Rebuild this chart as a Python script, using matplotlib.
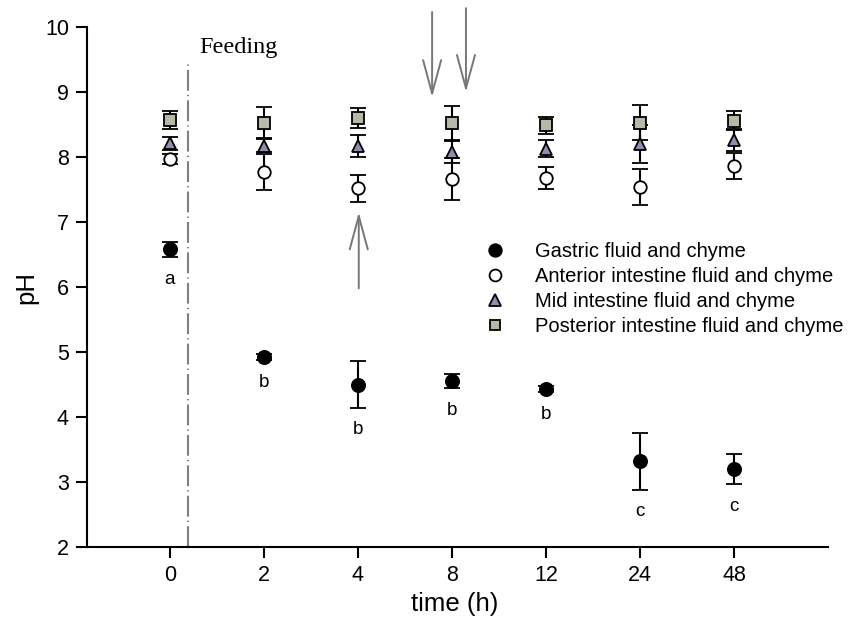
import matplotlib
matplotlib.use("Agg")
import matplotlib.pyplot as plt
import numpy as np

plt.rcParams['font.family'] = ['Liberation Sans', 'DejaVu Sans']

time_labels = ['0', '2', '4', '8', '12', '24', '48']

gastric = [6.58, 4.92, 4.50, 4.55, 4.43, 3.32, 3.20]
gastric_err = [0.12, 0.05, 0.36, 0.11, 0.05, 0.44, 0.23]

anterior = [7.97, 7.77, 7.52, 7.66, 7.68, 7.54, 7.86]
anterior_err = [0.08, 0.27, 0.21, 0.32, 0.17, 0.28, 0.20]

mid = [8.21, 8.17, 8.17, 8.08, 8.13, 8.20, 8.26]
mid_err = [0.10, 0.10, 0.17, 0.17, 0.13, 0.29, 0.17]

posterior = [8.57, 8.53, 8.60, 8.52, 8.49, 8.53, 8.56]
posterior_err = [0.14, 0.24, 0.15, 0.26, 0.13, 0.27, 0.15]

letters = ['a', 'b', 'b', 'b', 'b', 'c', 'c']

series_names = ['Gastric fluid and chyme', 'Anterior intestine fluid and chyme',
                'Mid intestine fluid and chyme', 'Posterior intestine fluid and chyme']

fig = plt.figure(figsize=(8.57, 6.19), dpi=100)
ax = fig.add_axes([87/857, 72/619, (828-87)/857, (547-27)/619])

x = np.arange(len(time_labels))

styles = [
    dict(marker='o', mfc='black', mec='black', ms=9.5),
    dict(marker='o', mfc='white', mec='black', ms=9),
    dict(marker='^', mfc='#8e8eb2', mec='black', ms=9),
    dict(marker='s', mfc='#b5b9a6', mec='black', ms=8),
]
data = [(gastric, gastric_err), (anterior, anterior_err), (mid, mid_err), (posterior, posterior_err)]
handles = []
for (vals, errs), st, name in zip(data, styles, series_names):
    c = ax.errorbar(x, vals, yerr=errs, linestyle='none', ecolor='black', elinewidth=1.5,
                    capsize=6, capthick=1.5, mew=1.3, label=name, **st)
    handles.append(c[0])

for xi, v, e, l in zip(x, gastric, gastric_err, letters):
    ax.text(xi, v - e - 0.34, l, ha='center', va='center', fontsize=13.5)

ax.set_xlim(-0.88, 7.0)
ax.set_ylim(2, 10)
ax.set_xticks(x)
ax.set_xticklabels(time_labels)
ax.set_yticks(range(2, 11))
ax.spines['top'].set_visible(False)
ax.spines['right'].set_visible(False)
for s in ['left', 'bottom']:
    ax.spines[s].set_linewidth(1.5)
ax.tick_params(direction='out', length=8, width=1.5, labelsize=15.5, pad=5)
ax.set_xlabel('time (h)', fontsize=18.5, va='center')
ax.xaxis.set_label_coords(0.496, -0.1096)
ax.set_ylabel('pH', fontsize=18.5, va='center')
ax.yaxis.set_label_coords(-0.0823, 0.5)

# Feeding line
ax.plot([0.19, 0.19], [2, 9.45], color='#808080', lw=1.5, linestyle=(0, (10, 2, 0.6, 2)), clip_on=False)
ax.text(0.31, 9.68, 'Feeding', fontsize=17.5, family='Liberation Serif', ha='left', va='center')

arrow_kw = dict(arrowstyle='->,head_length=2.4,head_width=0.65', color='#777777', lw=1.4,
                shrinkA=0, shrinkB=0)
ax.annotate('', xy=(2.79, 8.92), xytext=(2.79, 10.23), arrowprops=arrow_kw, annotation_clip=False)
ax.annotate('', xy=(3.15, 9.0), xytext=(3.15, 10.29), arrowprops=arrow_kw, annotation_clip=False)
ax.annotate('', xy=(2.01, 7.15), xytext=(2.01, 5.98), arrowprops=arrow_kw, annotation_clip=False)

ax.legend(handles=handles, labels=series_names, loc='upper left',
          bbox_to_anchor=(485/857, (619-242)/619), bbox_transform=fig.transFigure,
          frameon=False, fontsize=14.5, handlelength=1.0, handletextpad=1.5,
          borderpad=0, borderaxespad=0, labelspacing=0.3, markerscale=0.95)

fig.savefig('out.png', dpi=100)
